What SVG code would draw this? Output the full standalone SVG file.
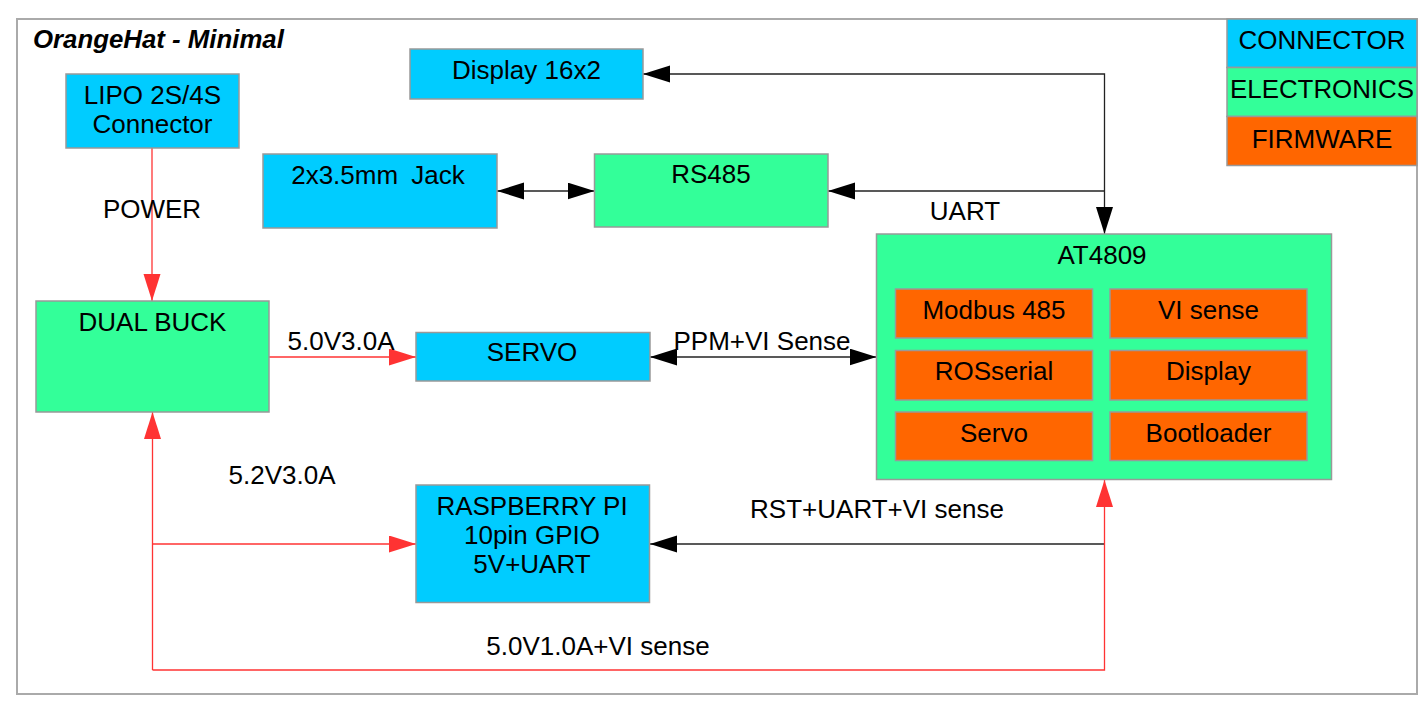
<svg xmlns="http://www.w3.org/2000/svg" width="1427" height="706" viewBox="0 0 1427 706">
<style>
text{font-family:"Liberation Sans",Arial,sans-serif;font-size:26px;fill:#000;text-anchor:middle}
.title{font-weight:bold;font-style:italic;text-anchor:start;font-size:25.8px}
.con{fill:#00ccff;stroke:#999;stroke-width:1.5}
.ele{fill:#33ff99;stroke:#999;stroke-width:1.5}
.fw{fill:#ff6600;stroke:#999;stroke-width:1.5}
.blk{fill:none;stroke:#222;stroke-width:1.3}
.red{fill:none;stroke:#ff3333;stroke-width:1.3}
</style>
<defs>
<marker id="ab" markerUnits="userSpaceOnUse" markerWidth="28" markerHeight="18" refX="27" refY="8.5" orient="auto-start-reverse"><path d="M0,0 L27,8.5 L0,17 z" fill="#000"/></marker>
<marker id="ar" markerUnits="userSpaceOnUse" markerWidth="28" markerHeight="18" refX="27" refY="8.5" orient="auto-start-reverse"><path d="M0,0 L27,8.5 L0,17 z" fill="#ff3333"/></marker>
</defs>
<rect x="0" y="0" width="1427" height="706" fill="#fff"/>
<rect id="frame" x="17" y="19" width="1400" height="675" fill="#fff" stroke="#aaa" stroke-width="2"/>
<text class="title" x="33" y="48">OrangeHat - Minimal</text>

<g id="connectors">
<path class="red" d="M152,148 V301" marker-end="url(#ar)"/>
<path class="red" d="M269,357 H416" marker-end="url(#ar)"/>
<path class="blk" d="M643,74 H1104.5 V234" marker-start="url(#ab)" marker-end="url(#ab)"/>
<path class="blk" d="M1104.5,191 H828" marker-end="url(#ab)"/>
<path class="blk" d="M497,191 H594.5" marker-start="url(#ab)" marker-end="url(#ab)"/>
<path class="blk" d="M650,357 H876.5" marker-start="url(#ab)" marker-end="url(#ab)"/>
<path class="blk" d="M1104.5,544 H650" marker-end="url(#ab)"/>
<path class="red" d="M152.5,670 H1104.5 V480" marker-end="url(#ar)"/>
<path class="red" d="M152.5,670 V412" marker-end="url(#ar)"/>
<path class="red" d="M152.5,544 H416" marker-end="url(#ar)"/>
<text x="152" y="218">POWER</text>
<text x="341" y="350">5.0V3.0A</text>
<text x="282" y="484">5.2V3.0A</text>
<text x="965" y="220">UART</text>
<text x="762" y="350">PPM+VI Sense</text>
<text x="877" y="518">RST+UART+VI sense</text>
<text x="598" y="655">5.0V1.0A+VI sense</text>
</g>

<g id="legend">
<rect class="con" x="1227" y="19" width="190" height="48.5"/>
<text x="1322" y="49">CONNECTOR</text>
<rect class="ele" x="1227" y="67.5" width="190" height="49"/>
<text x="1322" y="97.5" textLength="184" lengthAdjust="spacingAndGlyphs">ELECTRONICS</text>
<rect class="fw" x="1227" y="116.5" width="190" height="49"/>
<text x="1322" y="147.5">FIRMWARE</text>
</g>

<g id="lipo">
<rect class="con" x="66" y="74" width="173" height="74"/>
<text x="152.5" y="104">LIPO 2S/4S</text>
<text x="152.5" y="133">Connector</text>
</g>

<g id="display">
<rect class="con" x="410" y="49" width="233" height="50"/>
<text x="526.5" y="79">Display 16x2</text>
</g>

<g id="jack">
<rect class="con" x="263" y="154" width="234" height="74"/>
<text x="378" y="184" word-spacing="6">2x3.5mm Jack</text>
</g>

<g id="rs485">
<rect class="ele" x="594.5" y="154" width="233.5" height="73"/>
<text x="711" y="183">RS485</text>
</g>

<g id="dualbuck">
<rect class="ele" x="36" y="301" width="233" height="111"/>
<text x="152.5" y="331">DUAL BUCK</text>
</g>

<g id="servo">
<rect class="con" x="416" y="332.5" width="234" height="48.5"/>
<text x="532" y="361">SERVO</text>
</g>

<g id="raspberry">
<rect class="con" x="416" y="485" width="233.5" height="117.5"/>
<text x="532" y="515">RASPBERRY PI</text>
<text x="532" y="544">10pin GPIO</text>
<text x="532" y="573">5V+UART</text>
</g>

<g id="at4809">
<rect class="ele" x="876.5" y="234" width="455" height="245.5"/>
<text x="1102" y="264">AT4809</text>
<rect class="fw" x="895.5" y="289" width="197" height="49"/>
<text x="994" y="319">Modbus 485</text>
<rect class="fw" x="1110" y="289" width="197" height="49"/>
<text x="1208.5" y="319">VI sense</text>
<rect class="fw" x="895.5" y="350.5" width="197" height="49.5"/>
<text x="994" y="380">ROSserial</text>
<rect class="fw" x="1110" y="350.5" width="197" height="49.5"/>
<text x="1208.5" y="380">Display</text>
<rect class="fw" x="895.5" y="412" width="197" height="48.5"/>
<text x="994" y="441.5">Servo</text>
<rect class="fw" x="1110" y="412" width="197" height="48.5"/>
<text x="1208.5" y="441.5">Bootloader</text>
</g>
</svg>
